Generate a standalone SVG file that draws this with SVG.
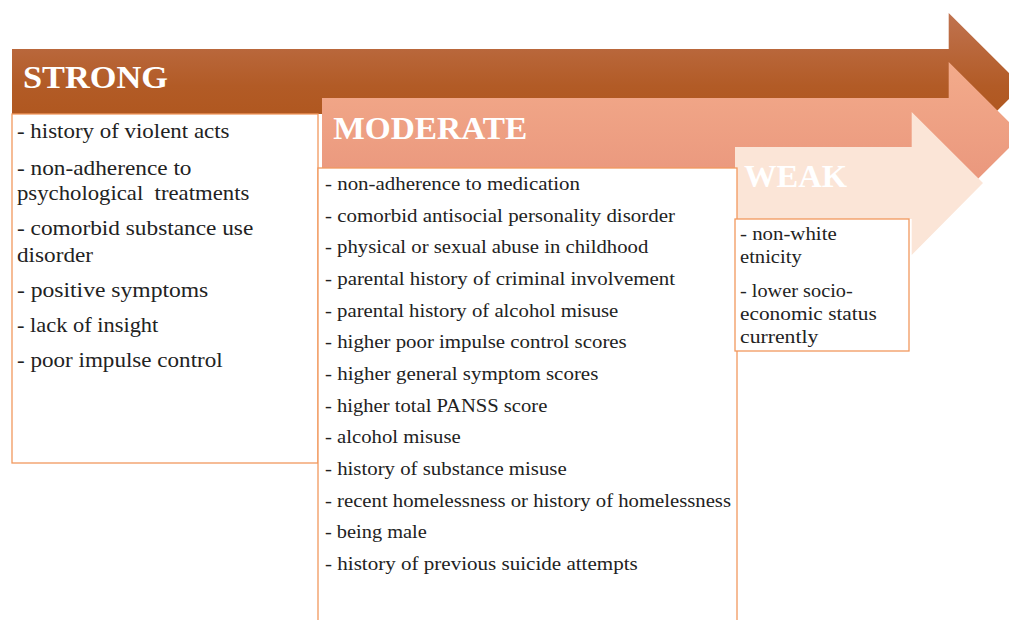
<svg xmlns="http://www.w3.org/2000/svg" width="1009" height="620" viewBox="0 0 1009 620">
  <defs>
    <linearGradient id="gStrong" x1="0" y1="0" x2="0" y2="1">
      <stop offset="0" stop-color="#c07350"/>
      <stop offset="0.5" stop-color="#b25b26"/>
      <stop offset="1" stop-color="#ad5216"/>
    </linearGradient>
    <linearGradient id="gModerate" x1="0" y1="0" x2="0" y2="1">
      <stop offset="0" stop-color="#f3ab8b"/>
      <stop offset="1" stop-color="#e8937a"/>
    </linearGradient>
    <style>
      .box { fill: #ffffff; stroke: #f2995e; stroke-width: 1.3; }
      .head { font-family: "Liberation Serif", "Times New Roman", serif; font-weight: bold; font-size: 32px; fill: #ffffff; }
      .t1 { font-family: "Liberation Serif", "Times New Roman", serif; font-size: 21px; fill: #222222; }
      .t2 { font-family: "Liberation Serif", "Times New Roman", serif; font-size: 19px; fill: #222222; }
      .t3 { font-family: "Liberation Serif", "Times New Roman", serif; font-size: 18.5px; fill: #222222; }
    </style>
  </defs>

  <rect width="1009" height="620" fill="#ffffff"/>

  <!-- STRONG level -->
  <g id="strong">
    <path d="M12,49 H948.7 V13 L1022,86 L948.7,159 V114 H12 Z" fill="url(#gStrong)"/>
    <text class="head" x="23" y="88.3" textLength="145" lengthAdjust="spacingAndGlyphs">STRONG</text>
  </g>

  <!-- MODERATE level -->
  <g id="moderate">
    <path d="M322,98 H948.7 V62 L1022,135 L948.7,208 V168 H322 Z" fill="url(#gModerate)"/>
    <text class="head" x="333.3" y="139.3" textLength="194" lengthAdjust="spacingAndGlyphs">MODERATE</text>
  </g>

  <!-- WEAK level -->
  <g id="weak">
    <path d="M735,147 H911.7 V112 L983,183 L911.7,255 V219 H735 Z" fill="#fbe5d7"/>
    <text class="head" x="744" y="187.3" textLength="103" lengthAdjust="spacingAndGlyphs">WEAK</text>
  </g>

  <!-- strong factors -->
  <g id="strong-list">
    <rect class="box" x="12" y="114" width="306" height="349"/>
    <text class="t1" x="17" y="138.3" textLength="212.5" lengthAdjust="spacingAndGlyphs">- history of violent acts</text>
    <text class="t1" x="17" y="175" textLength="174.5" lengthAdjust="spacingAndGlyphs">- non-adherence to</text>
    <text class="t1" x="17" y="200" textLength="232.3" lengthAdjust="spacingAndGlyphs" xml:space="preserve">psychological  treatments</text>
    <text class="t1" x="17" y="235" textLength="236.3" lengthAdjust="spacingAndGlyphs">- comorbid substance use</text>
    <text class="t1" x="17" y="261.5" textLength="76" lengthAdjust="spacingAndGlyphs">disorder</text>
    <text class="t1" x="17" y="296.7" textLength="191.3" lengthAdjust="spacingAndGlyphs">- positive symptoms</text>
    <text class="t1" x="17" y="331.7" textLength="141.3" lengthAdjust="spacingAndGlyphs">- lack of insight</text>
    <text class="t1" x="17" y="366.7" textLength="205.7" lengthAdjust="spacingAndGlyphs">- poor impulse control</text>
  </g>

  <!-- moderate factors -->
  <g id="moderate-list">
    <rect class="box" x="318" y="168" width="419" height="470"/>
    <text class="t2" x="325" y="190" textLength="255" lengthAdjust="spacingAndGlyphs">- non-adherence to medication</text>
    <text class="t2" x="325" y="221.7" textLength="350" lengthAdjust="spacingAndGlyphs">- comorbid antisocial personality disorder</text>
    <text class="t2" x="325" y="253.3" textLength="323.3" lengthAdjust="spacingAndGlyphs">- physical or sexual abuse in childhood</text>
    <text class="t2" x="325" y="285" textLength="350" lengthAdjust="spacingAndGlyphs">- parental history of criminal involvement</text>
    <text class="t2" x="325" y="316.7" textLength="293.3" lengthAdjust="spacingAndGlyphs">- parental history of alcohol misuse</text>
    <text class="t2" x="325" y="348.3" textLength="301.7" lengthAdjust="spacingAndGlyphs">- higher poor impulse control scores</text>
    <text class="t2" x="325" y="380" textLength="273.3" lengthAdjust="spacingAndGlyphs">- higher general symptom scores</text>
    <text class="t2" x="325" y="411.7" textLength="222.3" lengthAdjust="spacingAndGlyphs">- higher total PANSS score</text>
    <text class="t2" x="325" y="443.3" textLength="135.7" lengthAdjust="spacingAndGlyphs">- alcohol misuse</text>
    <text class="t2" x="325" y="475" textLength="241.7" lengthAdjust="spacingAndGlyphs">- history of substance misuse</text>
    <text class="t2" x="325" y="506.7" textLength="406" lengthAdjust="spacingAndGlyphs">- recent homelessness or history of homelessness</text>
    <text class="t2" x="325" y="538.3" textLength="101.7" lengthAdjust="spacingAndGlyphs">- being male</text>
    <text class="t2" x="325" y="570" textLength="312.7" lengthAdjust="spacingAndGlyphs">- history of previous suicide attempts</text>
  </g>

  <!-- weak factors -->
  <g id="weak-list">
    <rect class="box" x="735" y="219" width="174" height="132"/>
    <text class="t3" x="740" y="240" textLength="96.7" lengthAdjust="spacingAndGlyphs">- non-white</text>
    <text class="t3" x="740" y="263.3" textLength="61.7" lengthAdjust="spacingAndGlyphs">etnicity</text>
    <text class="t3" x="740" y="296.7" textLength="112.7" lengthAdjust="spacingAndGlyphs">- lower socio-</text>
    <text class="t3" x="740" y="320" textLength="136.7" lengthAdjust="spacingAndGlyphs">economic status</text>
    <text class="t3" x="740" y="343" textLength="78.3" lengthAdjust="spacingAndGlyphs">currently</text>
  </g>
</svg>
